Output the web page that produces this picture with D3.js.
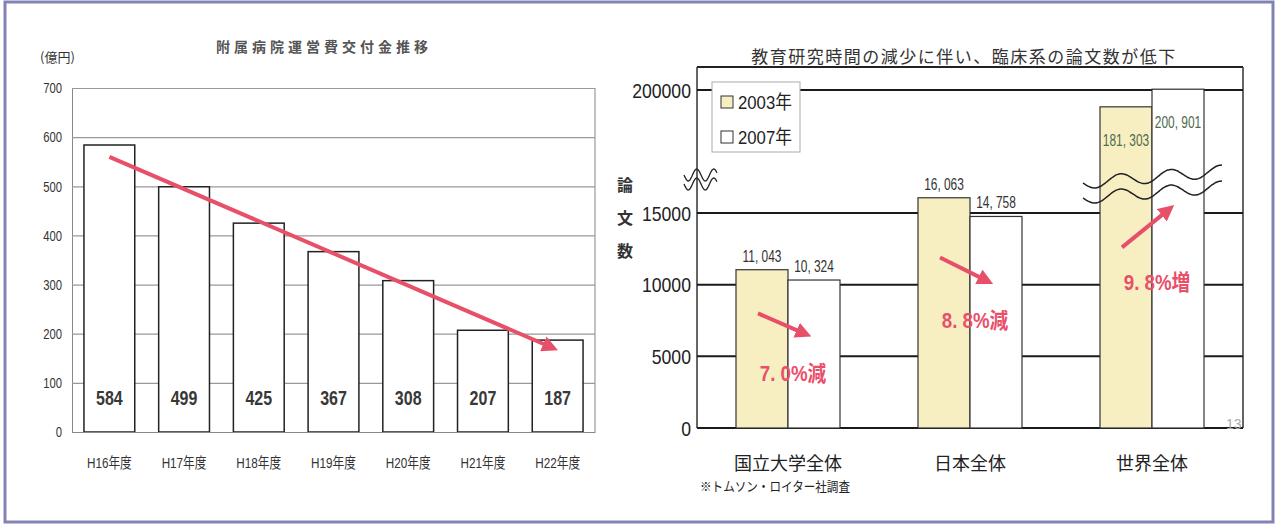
<!DOCTYPE html>
<html>
<head>
<meta charset="utf-8">
<script src="https://cdn.jsdelivr.net/npm/d3@7"></script>
<style>
  body { margin: 0; background: #fff; }
  text { font-family: "Liberation Sans", "Noto Sans CJK JP", sans-serif; }
  .jp { font-family: "Noto Sans CJK JP", sans-serif; }
</style>
</head>
<body>
<svg id="chart" width="1278" height="528"></svg>
<script>
// left chart: hospital grant
const fiscalYears = ["H16年度", "H17年度", "H18年度", "H19年度", "H20年度", "H21年度", "H22年度"];
const grantValues = [584, 499, 425, 367, 308, 207, 187];
const grantTicks = [0, 100, 200, 300, 400, 500, 600, 700];
const trendFrom = 560;
const trendTo = 173;

// right chart: paper counts
const groups = ["国立大学全体", "日本全体", "世界全体"];
const years = ["2003年", "2007年"];
const papers2003 = [11043, 16063, 181303];
const papers2007 = [10324, 14758, 200901];
const paperLabels2003 = ["11, 043", "16, 063", "181, 303"];
const paperLabels2007 = ["10, 324", "14, 758", "200, 901"];
const paperTicks = [0, 5000, 10000, 15000, 200000];
const changeLabels = ["7. 0%減", "8. 8%減", "9. 8%増"];
const changeFrom = [8000, 11900, 12600];
const changeTo = [6600, 10300, 15200];
const changeTextAt = [3300, 7000, 9600];

const RED = "#e8506a";
const svg = d3.select("#chart");

// squeeze text horizontally, the source uses a condensed face
function narrow(sel, ratio) {
  sel.each(function () {
    const w = this.getComputedTextLength();
    d3.select(this).attr("textLength", w * ratio).attr("lengthAdjust", "spacingAndGlyphs");
  });
}

// page frame
svg.append("rect")
  .attr("x", 5).attr("y", 2).attr("width", 1268).attr("height", 520)
  .attr("fill", "none").attr("stroke", "#8283b5").attr("stroke-width", 3);

const defs = svg.append("defs");
defs.append("marker")
  .attr("id", "head")
  .attr("viewBox", "0 0 10 10")
  .attr("refX", 5).attr("refY", 5)
  .attr("markerWidth", 4).attr("markerHeight", 4)
  .attr("orient", "auto")
  .append("path")
  .attr("d", "M0,0 L10,5 L0,10 z")
  .attr("fill", RED);

// ---------- left chart ----------
{
  const L = { left: 72, right: 595, top: 88, bottom: 432 };
  const g = svg.append("g");

  const x = d3.scaleBand().domain(fiscalYears)
    .range([L.left, L.right]).paddingInner(0.32).paddingOuter(0.16);
  const y = d3.scaleLinear().domain([0, 700]).range([L.bottom, L.top]);

  g.append("text").attr("class", "jp")
    .attr("x", 324).attr("y", 52).attr("text-anchor", "middle")
    .attr("font-size", 14).attr("font-weight", "bold").attr("letter-spacing", 4).attr("fill", "#555")
    .text("附属病院運営費交付金推移");
  g.append("text").attr("class", "jp")
    .attr("x", 40).attr("y", 62).attr("font-size", 13).attr("fill", "#333")
    .text("(億円)");

  const yAxis = g.append("g")
    .attr("transform", `translate(${L.left},0)`)
    .call(d3.axisLeft(y).tickValues(grantTicks).tickSize(-(L.right - L.left)).tickPadding(10));
  yAxis.select(".domain").attr("stroke", "#888");
  yAxis.selectAll(".tick line").attr("stroke", "#999").attr("stroke-width", 1.2);
  yAxis.selectAll(".tick text").attr("font-size", 15).attr("fill", "#333").call(narrow, 0.75);

  g.append("line")
    .attr("x1", L.right).attr("x2", L.right).attr("y1", L.top).attr("y2", L.bottom)
    .attr("stroke", "#999").attr("stroke-width", 1.2);

  g.selectAll("rect.bar")
    .data(grantValues)
    .join("rect")
    .attr("class", "bar")
    .attr("x", (d, i) => x(fiscalYears[i]))
    .attr("y", d => y(d))
    .attr("width", x.bandwidth())
    .attr("height", d => y(0) - y(d))
    .attr("fill", "#fff")
    .attr("stroke", "#222")
    .attr("stroke-width", 1.5);

  g.selectAll("text.val")
    .data(grantValues)
    .join("text")
    .attr("class", "val")
    .attr("x", (d, i) => x(fiscalYears[i]) + x.bandwidth() / 2)
    .attr("y", y(0) - 27)
    .attr("text-anchor", "middle")
    .attr("font-size", 20).attr("font-weight", "bold").attr("fill", "#383838")
    .text(d => d)
    .call(narrow, 0.8);

  const xAxis = g.append("g")
    .attr("transform", `translate(0,${L.bottom})`)
    .call(d3.axisBottom(x).tickSize(0).tickPadding(25));
  xAxis.select(".domain").attr("stroke", "#888");
  xAxis.selectAll(".tick text").attr("font-size", 15).attr("fill", "#333").call(narrow, 0.78);

  g.append("line")
    .attr("x1", x(fiscalYears[0]) + x.bandwidth() / 2)
    .attr("y1", y(trendFrom))
    .attr("x2", x(fiscalYears[6]) + x.bandwidth() / 2 - 7)
    .attr("y2", y(trendTo))
    .attr("stroke", RED).attr("stroke-width", 4)
    .attr("marker-end", "url(#head)");
}

// ---------- right chart ----------
{
  const R = { left: 697, right: 1243, top: 67, bottom: 428 };
  const g = svg.append("g");

  const xg = d3.scaleBand().domain(groups).range([R.left, R.right]);
  const xs = d3.scaleBand().domain(years).range([0, 104]);
  const groupStart = name => xg(name) + (xg.bandwidth() - 104) / 2;

  const yLow = d3.scaleLinear().domain([0, 15000]).range([R.bottom, 213]);
  const yHigh = d3.scaleLinear().domain([170000, 200000]).range([117, 90]);
  const yp = v => (v <= 20000 ? yLow(v) : yHigh(v));

  g.append("text").attr("class", "jp")
    .attr("x", 964).attr("y", 63).attr("text-anchor", "middle")
    .attr("font-size", 17).attr("letter-spacing", 1.5).attr("fill", "#333")
    .text("教育研究時間の減少に伴い、臨床系の論文数が低下");

  // frame
  g.append("line").attr("x1", R.left).attr("x2", R.right).attr("y1", R.top).attr("y2", R.top)
    .attr("stroke", "#222").attr("stroke-width", 2);
  g.append("line").attr("x1", R.left).attr("x2", R.left).attr("y1", R.top).attr("y2", R.bottom)
    .attr("stroke", "#333").attr("stroke-width", 1.5);
  g.append("line").attr("x1", R.right).attr("x2", R.right).attr("y1", R.top).attr("y2", R.bottom)
    .attr("stroke", "#333").attr("stroke-width", 1.5);

  // gridlines and tick labels
  g.selectAll("line.grid")
    .data(paperTicks)
    .join("line")
    .attr("class", "grid")
    .attr("x1", R.left).attr("x2", R.right)
    .attr("y1", d => yp(d)).attr("y2", d => yp(d))
    .attr("stroke", "#1a1a1a").attr("stroke-width", 2);
  g.selectAll("text.tick")
    .data(paperTicks)
    .join("text")
    .attr("class", "tick")
    .attr("x", R.left - 6)
    .attr("y", d => yp(d))
    .attr("dy", "0.36em")
    .attr("text-anchor", "end")
    .attr("font-size", 21).attr("fill", "#222")
    .text(d => d)
    .call(narrow, 0.84);

  // y label
  g.selectAll("text.ylab")
    .data(["論", "文", "数"])
    .join("text")
    .attr("class", "ylab jp")
    .attr("x", 625).attr("y", (d, i) => 191 + i * 33)
    .attr("text-anchor", "middle")
    .attr("font-size", 16).attr("font-weight", "bold").attr("fill", "#333")
    .text(d => d);

  // bars
  const series = [papers2003, papers2007];
  const fills = ["#f7efc2", "#fff"];
  series.forEach((vals, s) => {
    g.selectAll(`rect.s${s}`)
      .data(vals)
      .join("rect")
      .attr("class", `s${s}`)
      .attr("x", (d, i) => groupStart(groups[i]) + xs(years[s]))
      .attr("y", d => yp(d))
      .attr("width", xs.bandwidth())
      .attr("height", d => R.bottom - yp(d))
      .attr("fill", fills[s])
      .attr("stroke", "#333")
      .attr("stroke-width", 1.2);
  });

  const labels = [paperLabels2003, paperLabels2007];
  series.forEach((vals, s) => {
    g.selectAll(`text.l${s}`)
      .data(vals)
      .join("text")
      .attr("class", `l${s}`)
      .attr("x", (d, i) => groupStart(groups[i]) + xs(years[s]) + xs.bandwidth() / 2)
      .attr("y", d => (d > 20000 ? yp(d) + 39 : yp(d) - 8))
      .attr("text-anchor", "middle")
      .attr("font-size", 17)
      .attr("fill", d => (d > 20000 ? "#4d6b4d" : "#333"))
      .text((d, i) => labels[s][i])
      .call(narrow, 0.7);
  });

  // break marks
  const wave = (x0, x1, y0, y1, amp, period) => {
    const pts = d3.range(0, 1.0001, 0.01).map(t => {
      const xx = x0 + (x1 - x0) * t;
      const yy = y0 + (y1 - y0) * t + amp * Math.sin(((xx - x0) / period) * 2 * Math.PI);
      return [xx, yy];
    });
    return d3.line().curve(d3.curveBasis)(pts);
  };
  const wx = xg(groups[2]);
  [[0, 0], [15, 16]].forEach(([a, b]) => {
    g.append("path")
      .attr("d", wave(wx + 22, wx + 161, 183 + a, 171 + b, 6, 50))
      .attr("fill", "none").attr("stroke", "#222").attr("stroke-width", 1.5);
  });
  [0, 9].forEach(o => {
    g.append("path")
      .attr("d", wave(684, 717, 175 + o, 175 + o, 6, 17))
      .attr("fill", "none").attr("stroke", "#222").attr("stroke-width", 1.3);
  });

  // legend
  const lg = g.append("g").attr("transform", "translate(712,82)");
  lg.append("rect").attr("width", 88).attr("height", 70)
    .attr("fill", "#fff").attr("stroke", "#aaa");
  years.forEach((yr, i) => {
    lg.append("rect")
      .attr("x", 9).attr("y", 14 + i * 35).attr("width", 12).attr("height", 12)
      .attr("fill", fills[i]).attr("stroke", "#333");
    lg.append("text")
      .attr("x", 26).attr("y", 27 + i * 35)
      .attr("font-size", 19).attr("fill", "#222")
      .text(yr)
      .call(narrow, 0.88);
  });

  // category labels
  g.selectAll("text.cat")
    .data(groups)
    .join("text")
    .attr("class", "cat jp")
    .attr("x", d => xg(d) + xg.bandwidth() / 2)
    .attr("y", 470)
    .attr("text-anchor", "middle")
    .attr("font-size", 18).attr("fill", "#222")
    .text(d => d);
  g.append("text").attr("class", "jp")
    .attr("x", 700).attr("y", 491)
    .attr("font-size", 13).attr("fill", "#222")
    .attr("textLength", 150).attr("lengthAdjust", "spacingAndGlyphs")
    .text("※トムソン・ロイター社調査");

  // change arrows and labels
  groups.forEach((name, i) => {
    const c0 = groupStart(name) + xs(years[0]) + xs.bandwidth() / 2;
    const c1 = groupStart(name) + xs(years[1]) + xs.bandwidth() / 2;
    g.append("line")
      .attr("x1", c0 - 4).attr("y1", yp(changeFrom[i]))
      .attr("x2", c1 - 10).attr("y2", yp(changeTo[i]))
      .attr("stroke", RED).attr("stroke-width", 4)
      .attr("marker-end", "url(#head)");
    g.append("text")
      .attr("x", (c0 + c1) / 2 + 5).attr("y", yp(changeTextAt[i]))
      .attr("text-anchor", "middle")
      .attr("font-size", 22).attr("font-weight", "bold").attr("fill", RED)
      .text(changeLabels[i])
      .call(narrow, 0.85);
  });

  g.append("text")
    .attr("x", 1226).attr("y", 429).attr("font-size", 14).attr("fill", "#aaa")
    .text("13");
}
</script>
</body>
</html>
